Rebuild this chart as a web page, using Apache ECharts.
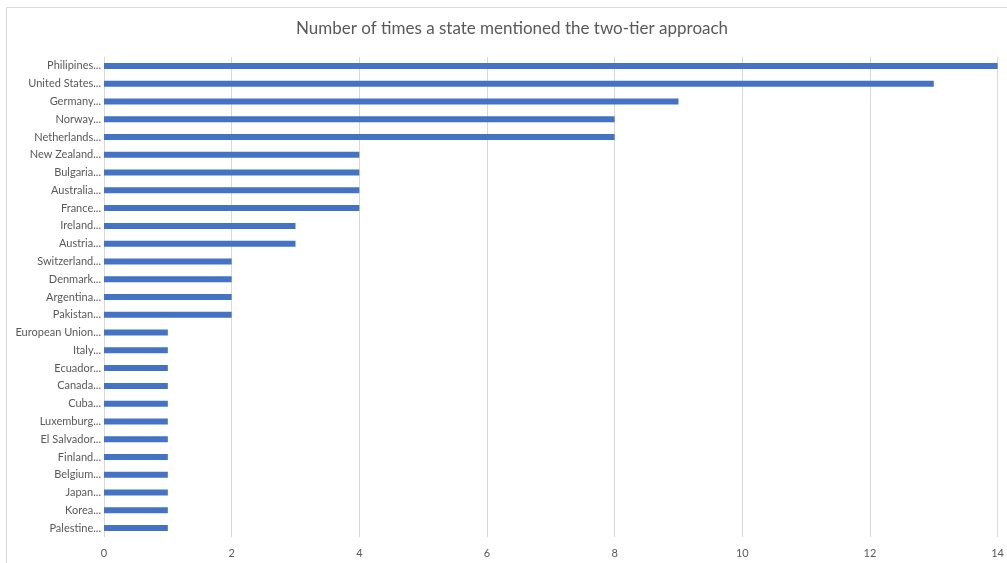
<!DOCTYPE html>
<html>
<head>
<meta charset="utf-8">
<script src="https://cdn.jsdelivr.net/npm/echarts@6/dist/echarts.min.js"></script>
<style>
  html, body { margin: 0; padding: 0; background: #fff; }
  #chart { width: 1007px; height: 563px; }
</style>
</head>
<body>
<div id="chart"></div>
<script>
// Countries, listed top to bottom
const countries = [
  'Philipines...', 'United States...', 'Germany...', 'Norway...', 'Netherlands...',
  'New Zealand...', 'Bulgaria...', 'Australia...', 'France...', 'Ireland...',
  'Austria...', 'Switzerland...', 'Denmark...', 'Argentina...', 'Pakistan...',
  'European Union...', 'Italy...', 'Ecuador...', 'Canada...', 'Cuba...',
  'Luxemburg...', 'El Salvador...', 'Finland...', 'Belgium...', 'Japan...',
  'Korea...', 'Palestine...'
];
// Number of mentions per country
const mentions = [
  14, 13, 9, 8, 8,
  4, 4, 4, 4, 3,
  3, 2, 2, 2, 2,
  1, 1, 1, 1, 1,
  1, 1, 1, 1, 1,
  1, 1
];
const chartTitle = 'Number of times a state mentioned the two-tier approach';

const FONT = 'Lato, "Open Sans", sans-serif';
const chart = echarts.init(document.getElementById('chart'), null, { renderer: 'canvas' });
chart.setOption({
  animation: false,
  backgroundColor: '#ffffff',
  graphic: [
    {
      type: 'rect',
      shape: { x: 6.5, y: 7.5, width: 1020, height: 600 },
      style: { fill: 'none', stroke: '#d9d9d9', lineWidth: 1 },
      silent: true
    },
    {
      type: 'text',
      x: 512,
      y: 29,
      style: {
        text: chartTitle,
        fill: '#595959',
        font: '17px ' + FONT,
        textAlign: 'center',
        textVerticalAlign: 'middle'
      }
    }
  ],
  grid: { left: 104, right: 9, top: 57, bottom: 26, containLabel: false },
  xAxis: {
    type: 'value',
    min: 0,
    max: 14,
    interval: 2,
    axisLine: { show: false },
    axisTick: { show: false },
    axisLabel: { color: '#595959', fontSize: 11, fontFamily: FONT, margin: 11 },
    splitLine: { show: true, lineStyle: { color: '#d9d9d9', width: 1 } }
  },
  yAxis: {
    type: 'category',
    data: countries,
    inverse: true,
    axisLine: { show: true, lineStyle: { color: '#d9d9d9', width: 1 } },
    axisTick: { show: false },
    axisLabel: { color: '#595959', fontSize: 11, fontFamily: FONT, margin: 3 }
  },
  series: [{
    type: 'bar',
    data: mentions,
    barWidth: 6,
    itemStyle: { color: '#4472c4' },
    silent: true
  }]
});
</script>
</body>
</html>
